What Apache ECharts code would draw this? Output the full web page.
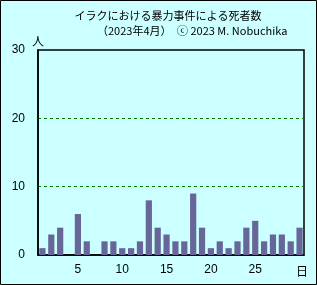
<!DOCTYPE html>
<html><head><meta charset="utf-8">
<script src="https://cdn.jsdelivr.net/npm/echarts@6/dist/echarts.min.js"></script>
<style>html,body{margin:0;padding:0;background:#ccffff;}#c{width:317px;height:285px;}</style>
</head><body><div id="c"></div>
<script>
const days = Array.from({length:30},(_,i)=>String(i+1));
const deaths = [1,3,4,0,6,2,0,2,2,1,1,2,8,4,3,2,2,9,4,1,2,1,2,4,5,2,3,3,2,4];
const titleText = 'イラクにおける暴力事件による死者数';
const subText = '（2023年4月）　ⓒ 2023 M. Nobuchika';
const shownDays = ['5','10','15','20','25'];
const font = '"Noto Sans CJK JP", sans-serif';
const chart = echarts.init(document.getElementById('c'), null, {renderer:'canvas'});
chart.setOption({
  backgroundColor:'#ccffff',
  animation:false,
  graphic:[
    {type:'rect', shape:{x:0.5,y:0.5,width:316,height:284}, style:{fill:'none',stroke:'#000',lineWidth:1}},
    {type:'text', x:168, y:10, style:{text:titleText, font:'11px '+font, fill:'#000', align:'center'}},
    {type:'text', x:97, y:25, style:{text:subText, font:'11px '+font, fill:'#000'}}
  ],
  grid:{left:38,right:13,top:50,bottom:30,show:true,borderColor:'#000',borderWidth:1.5,backgroundColor:'transparent'},
  xAxis:{type:'category',data:days,
    axisLine:{lineStyle:{color:'#000',width:1.5}},axisTick:{show:false},
    axisLabel:{interval:0,color:'#000',fontSize:12,fontFamily:'Arial, Liberation Sans',margin:9,
      formatter:v=>shownDays.includes(v)?v:''},
    name:'日',nameLocation:'end',nameGap:-2,
    nameTextStyle:{color:'#000',fontSize:12,fontFamily:font,align:'center',verticalAlign:'top',padding:[10,0,0,0]}},
  yAxis:{type:'value',min:0,max:30,interval:10,
    axisLine:{show:true,lineStyle:{color:'#000',width:1.5}},axisTick:{show:false},
    axisLabel:{color:'#000',fontSize:12,fontFamily:'Arial, Liberation Sans',margin:13},
    splitLine:{show:true,showMinLine:false,showMaxLine:false,lineStyle:{color:'#008000',type:[3,3],width:1}},
    name:'人',nameLocation:'end',nameGap:3,
    nameTextStyle:{color:'#000',fontSize:12,fontFamily:font,align:'center'}},
  series:[{type:'bar',data:deaths,barCategoryGap:'30%',itemStyle:{color:'#666699'}}]
});
</script></body></html>
